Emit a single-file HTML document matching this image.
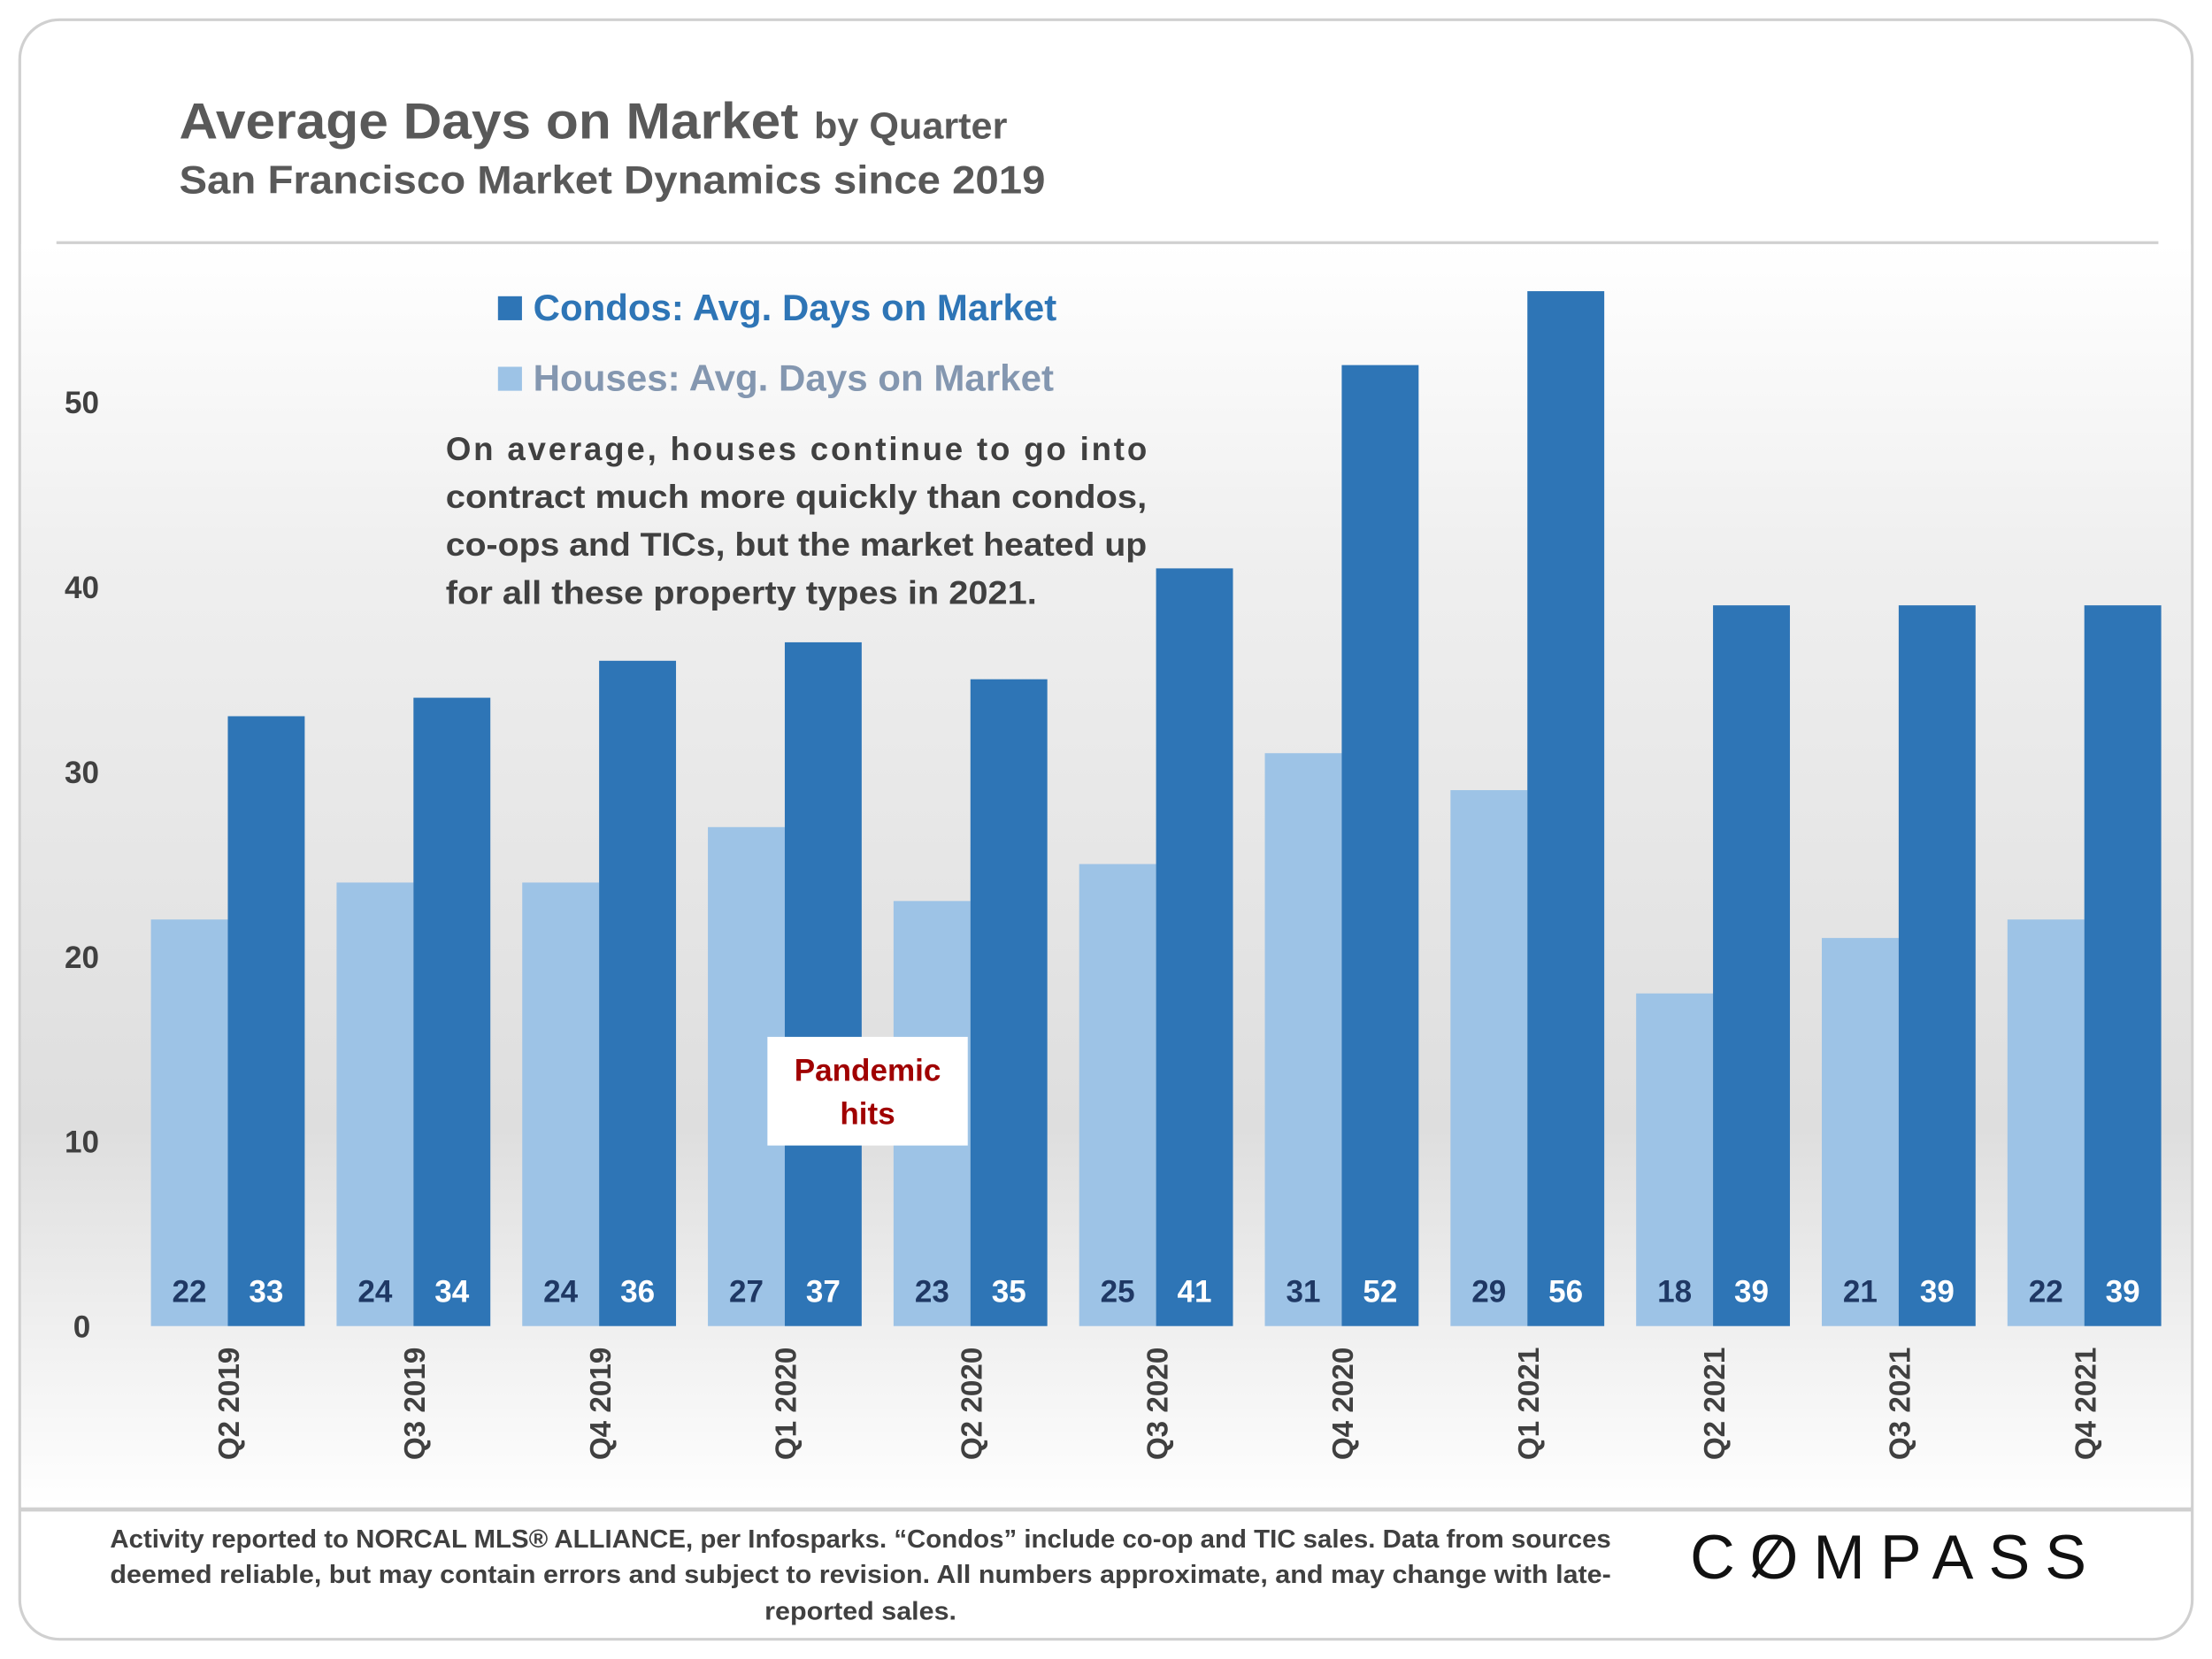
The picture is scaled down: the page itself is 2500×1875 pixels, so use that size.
<!DOCTYPE html>
<html><head><meta charset="utf-8"><style>
html,body{margin:0;padding:0;background:#fff;}
svg{display:block;font-family:"Liberation Sans",sans-serif;}
</style></head><body>
<svg id="chart" width="2500" height="1875" viewBox="0 0 1568 1176" xmlns="http://www.w3.org/2000/svg">
<defs>
<linearGradient id="bg" x1="0" y1="0" x2="0" y2="1">
<stop offset="0" stop-color="#ffffff"/>
<stop offset="0.25" stop-color="#efefef"/>
<stop offset="0.7" stop-color="#dedede"/>
<stop offset="0.88" stop-color="#f2f2f2"/>
<stop offset="1" stop-color="#ffffff"/>
</linearGradient>
</defs>
<rect x="14" y="14" width="1540" height="1148" rx="28" fill="#fff" stroke="#d0d0d0" stroke-width="2"/>
<rect x="15" y="173" width="1538" height="895" fill="url(#bg)"/>
<line x1="40" y1="172" x2="1530" y2="172" stroke="#d0d0d0" stroke-width="2"/>
<line x1="14" y1="1070" x2="1554" y2="1070" stroke="#d0d0d0" stroke-width="3"/>
<text x="127" y="98" font-size="36" font-weight="bold" fill="#595959" textLength="439" lengthAdjust="spacingAndGlyphs">Average Days on Market</text>
<text x="577" y="98" font-size="26" font-weight="bold" fill="#595959" textLength="137" lengthAdjust="spacingAndGlyphs">by Quarter</text>
<text x="127" y="137" font-size="28" font-weight="bold" fill="#595959" textLength="614" lengthAdjust="spacingAndGlyphs">San Francisco Market Dynamics since 2019</text>
<g id="yaxis"></g>
<g id="bars"></g>
<g id="xaxis"></g>
<g>
<rect x="353" y="210" width="17" height="17" fill="#2e75b6"/>
<text x="378" y="227" font-size="26" font-weight="bold" fill="#2e75b6" textLength="371" lengthAdjust="spacingAndGlyphs">Condos: Avg. Days on Market</text>
<rect x="353" y="260" width="17" height="17" fill="#9dc3e6"/>
<text x="378" y="277" font-size="26" font-weight="bold" fill="#8497b0" textLength="369" lengthAdjust="spacingAndGlyphs">Houses: Avg. Days on Market</text>
</g>
<g font-size="23" font-weight="bold" fill="#404040">
<text x="316" y="326" textLength="497" lengthAdjust="spacing">On average, houses continue to go into</text>
<text x="316" y="360" textLength="497" lengthAdjust="spacingAndGlyphs">contract much more quickly than condos,</text>
<text x="316" y="394" textLength="497" lengthAdjust="spacingAndGlyphs">co-ops and TICs, but the market heated up</text>
<text x="316" y="428" textLength="419" lengthAdjust="spacingAndGlyphs">for all these property types in 2021.</text>
</g>
<g>
<rect x="544" y="735" width="142" height="77" fill="#fff"/>
<text x="615" y="766" font-size="22" font-weight="bold" fill="#a00000" text-anchor="middle">Pandemic</text>
<text x="615" y="797" font-size="22" font-weight="bold" fill="#a00000" text-anchor="middle">hits</text>
</g>
<g font-size="18" font-weight="bold" fill="#404040">
<text x="78" y="1097" textLength="1064" lengthAdjust="spacingAndGlyphs">Activity reported to NORCAL MLS® ALLIANCE, per Infosparks. “Condos” include co-op and TIC sales. Data from sources</text>
<text x="78" y="1122" textLength="1064" lengthAdjust="spacingAndGlyphs">deemed reliable, but may contain errors and subject to revision. All numbers approximate, and may change with late-</text>
<text x="542" y="1148" textLength="136" lengthAdjust="spacingAndGlyphs">reported sales.</text>
</g>
<g>
<text x="1198" y="1119" font-size="44" fill="#111" textLength="287" lengthAdjust="spacing" letter-spacing="6">COMPASS</text>
<line x1="1243" y1="1118" x2="1262" y2="1092" stroke="#111" stroke-width="3"/>
</g>
</svg>
<script>
const categories = ["Q2 2019","Q3 2019","Q4 2019","Q1 2020","Q2 2020","Q3 2020","Q4 2020","Q1 2021","Q2 2021","Q3 2021","Q4 2021"];
const houses = [22,24,24,27,23,25,31,29,18,21,22];
const condos = [33,34,36,37,35,41,52,56,39,39,39];
const yTicks = [0,10,20,30,40,50];

const NS = "http://www.w3.org/2000/svg";
const y0 = 940, pxPerUnit = 13.1;
function yScale(v){ return y0 - v * pxPerUnit; }
const groupStart = 107, groupStep = 131.6, barW = 54.5;
function xScale(i){ return groupStart + i * groupStep; }
function mk(tag, attrs, parent){ const e=document.createElementNS(NS,tag); for(const k in attrs) e.setAttribute(k,attrs[k]); parent.appendChild(e); return e; }

const ya = document.getElementById('yaxis');
yTicks.forEach(t=>{
  const e = mk('text',{x:58,y:yScale(t)+8,'font-size':22,'font-weight':'bold',fill:'#404040','text-anchor':'middle'},ya);
  
  
  e.textContent = t;
});

const bars = document.getElementById('bars');
const xa = document.getElementById('xaxis');
categories.forEach((c,i)=>{
  const x = xScale(i);
  const hb = mk('rect',{x:x,y:yScale(houses[i]),width:barW,height:y0-yScale(houses[i]),fill:'#9dc3e6'},bars);
  
  
  const cb = mk('rect',{x:x+barW,y:yScale(condos[i]),width:barW,height:y0-yScale(condos[i]),fill:'#2e75b6'},bars);
  
  
  const hl = mk('text',{x:x+barW/2,y:923,'font-size':22,'font-weight':'bold',fill:'#1f3864','text-anchor':'middle'},bars);
  
  
  hl.textContent = houses[i];
  const cl = mk('text',{x:x+barW*1.5,y:923,'font-size':22,'font-weight':'bold',fill:'#ffffff','text-anchor':'middle'},bars);
  
  
  cl.textContent = condos[i];
  const xl = mk('text',{x:0,y:0,'font-size':21,'font-weight':'bold',fill:'#404040','text-anchor':'end',transform:`translate(${x+barW+8},955) rotate(-90)`,textLength:80,lengthAdjust:'spacingAndGlyphs'},xa);
  
  
  xl.textContent = c;
});
</script>
</body></html>
